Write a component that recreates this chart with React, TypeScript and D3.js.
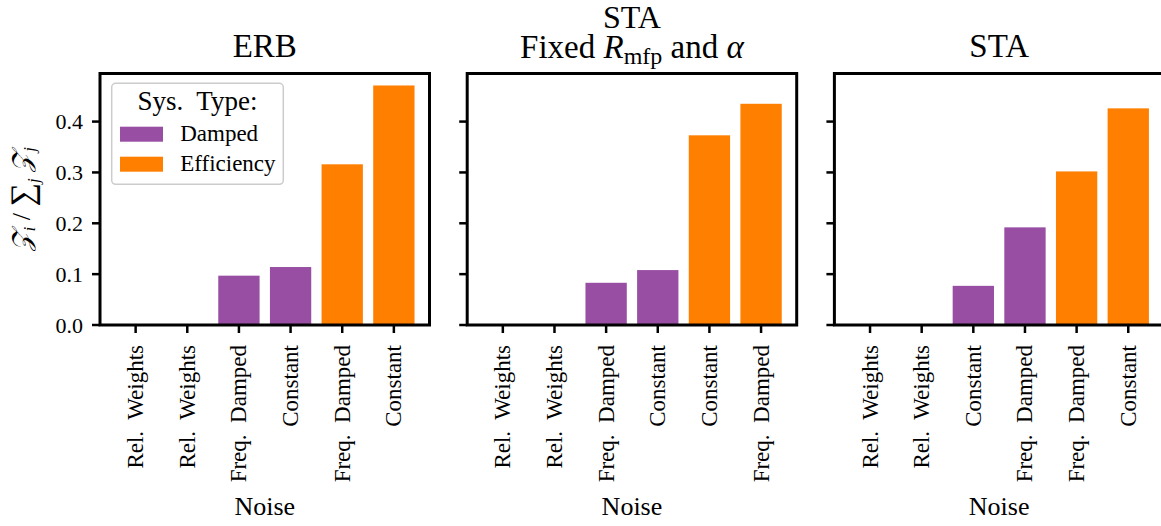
import React from "react";
import * as d3 from "d3";

// Noise-model weights per system type, three fits
const erbLabels = ["Rel.  Weights", "Rel.  Weights", "Freq.  Damped", "Constant", "Freq.  Damped", "Constant"];
const erbValues = [0, 0, 0.097, 0.114, 0.316, 0.471];
const erbTypes = ["Damped", "Damped", "Damped", "Damped", "Efficiency", "Efficiency"];

const staFixedLabels = ["Rel.  Weights", "Rel.  Weights", "Freq.  Damped", "Constant", "Constant", "Freq.  Damped"];
const staFixedValues = [0, 0, 0.083, 0.108, 0.373, 0.435];
const staFixedTypes = ["Damped", "Damped", "Damped", "Damped", "Efficiency", "Efficiency"];

const staLabels = ["Rel.  Weights", "Rel.  Weights", "Constant", "Freq.  Damped", "Freq.  Damped", "Constant"];
const staValues = [0, 0, 0.077, 0.192, 0.302, 0.426];
const staTypes = ["Damped", "Damped", "Damped", "Damped", "Efficiency", "Efficiency"];

const yTicks = [0, 0.1, 0.2, 0.3, 0.4];
const legendTypes = ["Damped", "Efficiency"];
const typeColors: Record<string, string> = { Damped: "#984ea3", Efficiency: "#ff7f00" };

const W = 1161;
const H = 526;
const FONT = "Liberation Serif";
const panelLeft0 = 100;
const panelStep = 367.2;
const panelW = 329.5;
const top = 73.5;
const bottom = 325;

const panels = [
  { labels: erbLabels, values: erbValues, types: erbTypes, title: "erb" },
  { labels: staFixedLabels, values: staFixedValues, types: staFixedTypes, title: "fixed" },
  { labels: staLabels, values: staValues, types: staTypes, title: "sta" },
];

const allMax = d3.max(panels.flatMap((p) => p.values)) as number;
const y = d3.scaleLinear().domain([0, allMax * 1.05]).range([bottom, top]);

// text style with the serif face set inline so nothing overrides it
const ts = (size: number, extra: React.CSSProperties = {}): React.CSSProperties => ({
  fontFamily: FONT,
  fontSize: size,
  ...extra,
});

function Title({ kind, cx }: { kind: string; cx: number }) {
  if (kind === "erb")
    return (
      <text x={cx} y={57} textAnchor="middle" style={ts(33)}>ERB</text>
    );
  if (kind === "sta")
    return (
      <text x={cx} y={57} textAnchor="middle" style={ts(33)}>STA</text>
    );
  return (
    <g>
      <text x={cx} y={28} textAnchor="middle" style={ts(32)}>STA</text>
      <text x={cx} y={58} textAnchor="middle" style={ts(33, { whiteSpace: "pre" })}>
        <tspan>Fixed </tspan>
        <tspan style={{ fontStyle: "italic" }}>R</tspan>
        <tspan style={{ fontSize: 24 }} dy={6}>mfp</tspan>
        <tspan dy={-6}> and </tspan>
        <tspan style={{ fontStyle: "italic" }}>α</tspan>
      </text>
    </g>
  );
}

function Panel({ idx }: { idx: number }) {
  const p = panels[idx];
  const left = panelLeft0 + idx * panelStep;
  const n = p.values.length;
  const x = d3.scaleLinear().domain([-0.69, n - 1 + 0.69]).range([left, left + panelW]);
  const bw = x(0.8) - x(0);
  return (
    <g>
      {p.values.map((v, i) => (
        <rect
          key={i}
          x={x(i) - bw / 2}
          y={y(v)}
          width={bw}
          height={y(0) - y(v)}
          fill={typeColors[p.types[i]]}
        />
      ))}
      <rect x={left} y={top} width={panelW} height={bottom - top} fill="none" stroke="#000" strokeWidth={3} />
      {yTicks.map((t) => (
        <g key={t}>
          <line x1={left - 8} x2={left} y1={y(t)} y2={y(t)} stroke="#000" strokeWidth={2.5} />
          {idx === 0 && (
            <text x={left - 17} y={y(t)} dy="0.35em" textAnchor="end" style={ts(22)}>
              {d3.format(".1f")(t)}
            </text>
          )}
        </g>
      ))}
      {p.labels.map((lab, i) => (
        <g key={i}>
          <line x1={x(i)} x2={x(i)} y1={bottom} y2={bottom + 8} stroke="#000" strokeWidth={2.5} />
          <text
            transform={`translate(${x(i)},${bottom + 20}) rotate(-90)`}
            textAnchor="end"
            dominantBaseline="central"
            style={ts(23, { whiteSpace: "pre" })}
          >
            {lab}
          </text>
        </g>
      ))}
      <text x={left + panelW / 2} y={515} textAnchor="middle" style={ts(26)}>Noise</text>
      <Title kind={p.title} cx={left + panelW / 2} />
    </g>
  );
}

function Legend() {
  const lx = 111.7;
  const ly = 83.3;
  return (
    <g>
      <rect x={lx} y={ly} width={171.6} height={101} rx={4} fill="#fff" fillOpacity={0.8} stroke="#cccccc" strokeWidth={1.5} />
      <text x={lx + 85.8} y={ly + 27} textAnchor="middle" style={ts(27, { whiteSpace: "pre" })}>Sys.  Type:</text>
      {legendTypes.map((t, i) => (
        <g key={t}>
          <rect x={lx + 8.3} y={ly + 43.4 + i * 30} width={43} height={15} fill={typeColors[t]} />
          <text x={lx + 68.5} y={ly + 57.5 + i * 30} style={ts(23)}>{t}</text>
        </g>
      ))}
    </g>
  );
}

export default function App() {
  return (
    <div style={{ position: "absolute", left: 0, top: 0 }}>
      <svg width={W} height={H} style={{ display: "block", background: "#fff", fontFamily: FONT }}>
        {panels.map((_, i) => (
          <Panel key={i} idx={i} />
        ))}
        <Legend />
        <text
          transform={`translate(30,${(top + bottom) / 2}) rotate(-90)`}
          textAnchor="middle"
          style={ts(26)}
        >
          <tspan style={{ fontStyle: "italic" }}>𝒵</tspan>
          <tspan style={{ fontSize: 17, fontStyle: "italic" }} dy={5}>i</tspan>
          <tspan dy={-5}> / </tspan>
          <tspan style={{ fontSize: 33 }} dy={3}>∑</tspan>
          <tspan style={{ fontSize: 17, fontStyle: "italic" }} dy={6}>j</tspan>
          <tspan dy={-9}> </tspan>
          <tspan style={{ fontStyle: "italic" }}>𝒵</tspan>
          <tspan style={{ fontSize: 17, fontStyle: "italic" }} dy={5}>j</tspan>
        </text>
      </svg>
    </div>
  );
}
